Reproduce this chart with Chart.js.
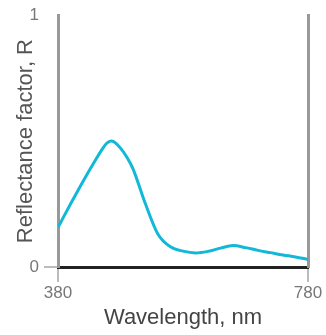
<!DOCTYPE html>
<html>
<head>
<meta charset="utf-8">
<script src="https://cdn.jsdelivr.net/npm/chart.js@4"></script>
<style>
  body { margin: 0; background: #fff; }
  canvas { display: block; }
</style>
</head>
<body>
<canvas id="chart" width="326" height="335"></canvas>
<script>
// wavelength (nm) and reflectance factor
const wavelengths = [380, 400, 420, 440, 450, 455, 460, 465, 470, 480, 490, 500, 520, 540, 560, 580, 600, 620, 640, 660, 680, 700, 720, 740, 760, 780];
const reflectance = [0.157, 0.25, 0.34, 0.425, 0.465, 0.483, 0.495, 0.5, 0.496, 0.472, 0.437, 0.39, 0.25, 0.13, 0.08, 0.063, 0.056, 0.062, 0.075, 0.085, 0.077, 0.066, 0.057, 0.048, 0.04, 0.03];
const xTicks = [380, 780];
const yTicks = [0, 1];

const points = wavelengths.map((w, i) => ({ x: w, y: reflectance[i] }));
const labelFont = { family: 'Liberation Sans', size: 17 };
const titleFont = { family: 'Liberation Sans', size: 22 };

const ctx = document.getElementById('chart').getContext('2d');
new Chart(ctx, {
    type: 'line',
    data: {
        datasets: [{
            data: points,
            borderColor: '#12b8d8',
            borderWidth: 3,
            pointRadius: 0,
            cubicInterpolationMode: 'monotone',
            fill: false
        }]
    },
    options: {
        responsive: false,
        animation: false,
        layout: { padding: { top: 13, left: 0, right: 0, bottom: 0 } },
        plugins: { legend: { display: false }, tooltip: { enabled: false } },
        scales: {
            x: {
                type: 'linear',
                min: 380,
                max: 780,
                afterBuildTicks: s => { s.ticks = xTicks.map(v => ({ value: v })); },
                afterFit: s => { s.height = 68; },
                border: { color: '#222', width: 3 },
                grid: { drawOnChartArea: false, tickLength: 15, color: '#bbb', lineWidth: 2 },
                ticks: { color: '#777', font: labelFont, padding: 1, maxRotation: 0 },
                title: { display: true, text: 'Wavelength, nm', color: '#444', font: titleFont, padding: { top: 4 } }
            },
            y: {
                min: 0,
                max: 1,
                afterBuildTicks: s => { s.ticks = yTicks.map(v => ({ value: v })); },
                afterFit: s => { s.width = 58; },
                border: { color: '#999', width: 3 },
                grid: {
                    drawOnChartArea: false,
                    tickLength: 14,
                    lineWidth: 2,
                    color: c => c.tick && c.tick.value === 0 ? '#bbb' : 'rgba(0,0,0,0)'
                },
                ticks: { color: '#777', font: labelFont, padding: 5 },
                title: { display: true, text: 'Reflectance factor, R', color: '#555', font: titleFont, padding: { top: 13, bottom: 0 } }
            },
            y2: {
                position: 'right',
                min: 0,
                max: 1,
                afterFit: s => { s.width = 18; },
                border: { color: '#999', width: 3 },
                grid: { display: false },
                ticks: { display: false }
            }
        }
    }
});
</script>
</body>
</html>
